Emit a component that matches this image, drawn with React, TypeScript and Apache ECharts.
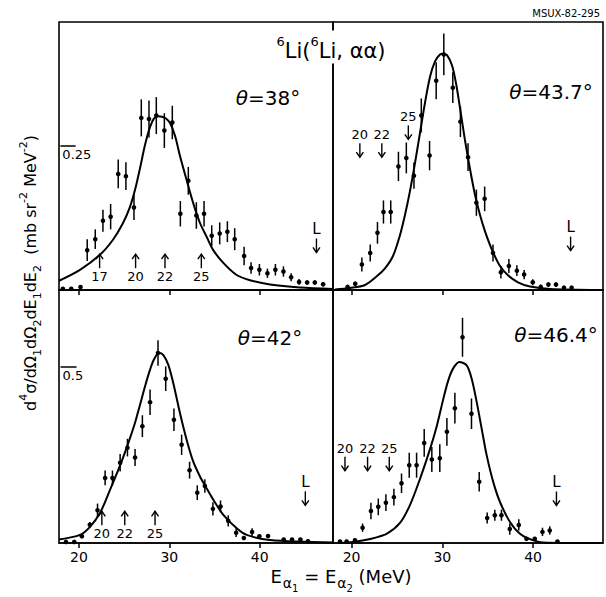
import React, { useEffect, useRef } from 'react';
import * as echarts from 'echarts';

const FONT = 'DejaVu Sans';
const tickValues = [20, 30, 40];

// ---- Top-left panel (theta = 38°)
const tlX = [18.23, 19.15, 20.18, 20.92, 21.81, 22.66, 23.51, 24.35, 25.2, 26.09, 26.9, 27.75, 28.56, 29.45, 30.33, 31.22, 32.1, 32.99, 33.84, 34.69, 35.57, 36.42, 37.23, 38.27, 39.04, 39.96, 40.85, 41.73, 42.62, 43.47, 44.35, 45.24, 46.09, 47.01];
const tlY = [0.002, 0.002, 0.005, 0.069, 0.088, 0.12, 0.127, 0.201, 0.197, 0.143, 0.298, 0.296, 0.302, 0.276, 0.29, 0.132, 0.189, 0.129, 0.132, 0.094, 0.098, 0.101, 0.088, 0.059, 0.038, 0.035, 0.029, 0.035, 0.032, 0.022, 0.014, 0.013, 0.013, 0.01];
const tlErr = [0, 0, 0, 0.019, 0.017, 0.019, 0.022, 0.025, 0.024, 0.022, 0.032, 0.032, 0.032, 0.03, 0.029, 0.022, 0.024, 0.023, 0.022, 0.018, 0.019, 0.018, 0.019, 0.016, 0.01, 0.01, 0.008, 0.01, 0.009, 0.007, 0.005, 0.004, 0.004, 0.004];
const tlCurveX = [17.8, 20.12, 22.33, 23.77, 24.88, 25.65, 26.2, 26.76, 27.31, 27.86, 28.31, 28.75, 29.19, 29.63, 30.08, 30.63, 31.18, 31.92, 32.65, 33.39, 34.13, 34.86, 35.97, 37.45, 38.92, 41.13, 44.45, 48.1];
const tlCurveY = [0.016, 0.035, 0.061, 0.087, 0.116, 0.144, 0.173, 0.211, 0.251, 0.282, 0.297, 0.301, 0.3, 0.297, 0.289, 0.267, 0.232, 0.19, 0.15, 0.116, 0.092, 0.069, 0.047, 0.026, 0.017, 0.0095, 0.0043, 0.0017];
const tlArrowX = [22.29, 26.27, 29.52, 33.54, 46.27];
const tlArrowY = [0.062, 0.062, 0.062, 0.062, 0.065];
const tlArrowText = ['17', '20', '22', '25', 'L'];
const tlArrowDir = ['up', 'up', 'up', 'up', 'down'];

// ---- Top-right panel (theta = 43.7°)
const trX = [19.56, 20.4, 21.13, 22.05, 22.85, 23.51, 24.31, 25.16, 26.03, 26.87, 27.68, 28.59, 29.32, 30.16, 31.15, 31.99, 32.83, 33.75, 34.66, 35.58, 36.45, 37.33, 38.21, 39.01, 39.96, 40.84, 41.68, 42.52, 43.4, 44.24];
const trY = [0.004, 0.008, 0.033, 0.048, 0.074, 0.101, 0.101, 0.16, 0.171, 0.148, 0.226, 0.174, 0.271, 0.305, 0.262, 0.218, 0.172, 0.113, 0.118, 0.048, 0.023, 0.031, 0.025, 0.02, 0.01, 0.004, 0.007, 0.007, 0.003, 0.003];
const trErr = [0, 0.003, 0.009, 0.011, 0.014, 0.015, 0.015, 0.019, 0.02, 0.017, 0.022, 0.019, 0.024, 0.027, 0.02, 0.02, 0.018, 0.017, 0.016, 0.011, 0.008, 0.009, 0.007, 0.006, 0.004, 0.003, 0.003, 0.003, 0, 0];
const trCurveX = [18.17, 19.82, 21.48, 22.8, 23.68, 24.56, 25.33, 25.88, 26.43, 26.98, 27.53, 28.08, 28.64, 29.19, 29.74, 30.1, 30.51, 31.06, 31.5, 31.94, 32.49, 33.04, 33.6, 34.15, 34.7, 35.47, 36.35, 37.23, 38.33, 39.66, 41.86, 47.37];
const trCurveY = [0.0006, 0.0026, 0.0065, 0.018, 0.028, 0.044, 0.071, 0.097, 0.128, 0.164, 0.203, 0.242, 0.276, 0.296, 0.305, 0.306, 0.304, 0.291, 0.268, 0.236, 0.194, 0.157, 0.123, 0.097, 0.076, 0.052, 0.031, 0.019, 0.01, 0.0045, 0.0013, 0];
const trArrowX = [20.91, 23.33, 26.25, 44.13];
const trArrowY = [0.172, 0.172, 0.195, 0.051];
const trArrowText = ['20', '22', '25', 'L'];
const trArrowDir = ['down', 'down', 'down', 'down'];

// ---- Bottom-left panel (theta = 42°)
const blX = [18.57, 19.49, 20.33, 21.21, 22.06, 22.9, 23.71, 24.56, 25.37, 26.21, 27.02, 27.87, 28.75, 29.6, 30.51, 31.36, 32.24, 33.09, 33.93, 34.82, 35.66, 36.51, 37.39, 38.24, 39.15, 39.96, 40.92, 42.65, 43.57, 44.49, 45.33];
const blY = [0.003, 0.003, 0.019, 0.052, 0.093, 0.185, 0.185, 0.228, 0.271, 0.243, 0.332, 0.4, 0.54, 0.467, 0.35, 0.279, 0.207, 0.143, 0.162, 0.097, 0.104, 0.063, 0.029, 0.014, 0.031, 0.019, 0.02, 0.01, 0.01, 0.01, 0.005];
const blErr = [0, 0, 0, 0.008, 0.019, 0.021, 0.021, 0.025, 0.025, 0.024, 0.031, 0.036, 0.036, 0.035, 0.032, 0.029, 0.024, 0.021, 0.019, 0.019, 0.017, 0.016, 0.012, 0, 0.011, 0, 0, 0, 0, 0, 0];
const blCurveX = [17.8, 20.12, 21.23, 22.33, 23.44, 24.62, 25.46, 26.2, 26.76, 27.31, 27.86, 28.31, 28.86, 29.34, 29.89, 30.44, 31.18, 31.92, 32.65, 33.39, 34.13, 34.86, 35.97, 37.45, 38.56, 41.13, 48.1];
const blCurveY = [0.01, 0.023, 0.046, 0.085, 0.151, 0.225, 0.284, 0.341, 0.393, 0.445, 0.492, 0.522, 0.541, 0.534, 0.506, 0.454, 0.369, 0.293, 0.231, 0.189, 0.155, 0.123, 0.08, 0.042, 0.023, 0.0085, 0.0014];
const blArrowX = [22.54, 25.07, 28.42, 45.04];
const blArrowY = [0.09, 0.09, 0.09, 0.107];
const blArrowText = ['20', '22', '25', 'L'];
const blArrowDir = ['up', 'up', 'up', 'down'];

// ---- Bottom-right panel (theta = 46.4°)
const brX = [18.72, 19.45, 20.37, 21.21, 22.13, 22.94, 23.78, 24.66, 25.5, 26.35, 27.16, 28.0, 28.84, 29.72, 30.5, 31.38, 32.22, 33.21, 34.06, 34.94, 35.78, 36.51, 37.43, 38.42, 39.27, 40.18, 41.03, 41.83, 42.68];
const brY = [0.001, 0.001, 0.002, 0.011, 0.023, 0.026, 0.029, 0.033, 0.043, 0.056, 0.056, 0.072, 0.06, 0.061, 0.08, 0.097, 0.148, 0.093, 0.044, 0.018, 0.02, 0.02, 0.01, 0.013, 0.003, 0.003, 0.008, 0.009, 0.001];
const brErr = [0, 0, 0, 0.003, 0.006, 0.006, 0.006, 0.006, 0.007, 0.009, 0.009, 0.01, 0.009, 0.01, 0.01, 0.011, 0.014, 0.011, 0.007, 0.004, 0.004, 0.004, 0.004, 0.004, 0, 0, 0.003, 0.003, 0];
const brCurveX = [18.72, 20.15, 22.03, 23.9, 25.33, 26.43, 27.53, 28.64, 29.38, 30.1, 30.66, 31.21, 31.87, 32.68, 33.23, 33.78, 34.33, 34.88, 35.61, 36.35, 37.45, 38.55, 40.02, 41.49, 47.37];
const brCurveY = [0, 0.0007, 0.0029, 0.0068, 0.0144, 0.0273, 0.046, 0.0675, 0.084, 0.1035, 0.1172, 0.1258, 0.1302, 0.1278, 0.1182, 0.1015, 0.0823, 0.0632, 0.0438, 0.0295, 0.0151, 0.0067, 0.0019, 0.0002, 0];
const brArrowX = [19.27, 21.76, 24.15, 42.57];
const brArrowY = [0.052, 0.052, 0.052, 0.027];
const brArrowText = ['20', '22', '25', 'L'];
const brArrowDir = ['down', 'down', 'down', 'down'];

// ---- Scale markers and axis ranges
const scaleValues = [0.25, 0.25, 0.5, 0.1];
const scaleLabels = ['0.25', '0.25', '0.5', '0.1'];
const scaleStart = [17.95, 17.94, 17.97, 17.94];
const scaleEnd = [19.64, 19.6, 19.74, 19.6];
const yMax = [0.464, 0.347, 0.719, 0.182];
const xMin = [17.8, 17.95, 17.8, 17.95];
const xMax = [48.1, 47.7, 48.1, 47.7];
const angleLabels = ['=38°', '=43.7°', '=42°', '=46.4°'];

const zip = (xs: number[], ...cols: number[][]) => xs.map((x, i) => [x, ...cols.map((c) => c[i])]);

const errRender = (params: any, api: any) => {
  const x = api.value(0);
  const y = api.value(1);
  const e = api.value(2);
  const p = api.coord([x, y]);
  const children: any[] = [];
  if (e > 0) {
    const a = api.coord([x, y + e]);
    const b = api.coord([x, Math.max(0, y - e)]);
    children.push({ type: 'line', shape: { x1: a[0], y1: a[1], x2: b[0], y2: b[1] }, style: { stroke: '#000', lineWidth: 1.5 } });
  }
  children.push({ type: 'circle', shape: { cx: p[0], cy: p[1], r: 2.3 }, style: { fill: '#000' } });
  return { type: 'group', children };
};

const arrowRender = (texts: string[], dirs: string[]) => (params: any, api: any) => {
  const i = params.dataIndex;
  const tip = api.coord([api.value(0), api.value(1)]);
  const s = dirs[i] === 'up' ? 1 : -1;
  const len = 14;
  const tx = tip[0];
  const ty = tip[1];
  const tailY = ty + s * len;
  return {
    type: 'group',
    children: [
      { type: 'line', shape: { x1: tx, y1: ty, x2: tx, y2: tailY }, style: { stroke: '#000', lineWidth: 1.4 } },
      { type: 'polyline', shape: { points: [[tx - 3.5, ty + s * 5], [tx, ty], [tx + 3.5, ty + s * 5]] }, style: { stroke: '#000', lineWidth: 1.4, fill: 'none' } },
      { type: 'text', x: tx, y: tailY + s * 2, style: { text: texts[i], fill: '#000', fontSize: texts[i] === 'L' ? 15 : 13, fontFamily: FONT, align: 'center', verticalAlign: s > 0 ? 'top' : 'bottom' } },
    ],
  };
};

const panels = [
  { pts: zip(tlX, tlY, tlErr), curve: zip(tlCurveX, tlCurveY), arrows: zip(tlArrowX, tlArrowY), texts: tlArrowText, dirs: tlArrowDir },
  { pts: zip(trX, trY, trErr), curve: zip(trCurveX, trCurveY), arrows: zip(trArrowX, trArrowY), texts: trArrowText, dirs: trArrowDir },
  { pts: zip(blX, blY, blErr), curve: zip(blCurveX, blCurveY), arrows: zip(blArrowX, blArrowY), texts: blArrowText, dirs: blArrowDir },
  { pts: zip(brX, brY, brErr), curve: zip(brCurveX, brCurveY), arrows: zip(brArrowX, brArrowY), texts: brArrowText, dirs: brArrowDir },
];

const gridBoxes = [
  { left: 59, top: 22, width: 274, height: 268 },
  { left: 333, top: 22, width: 270, height: 268 },
  { left: 59, top: 290, width: 274, height: 253 },
  { left: 333, top: 290, width: 270, height: 253 },
];

const anglePos = [
  [268, 98],
  [551, 92],
  [270, 338],
  [556, 335],
];

function buildOption(): any {
  const grid = gridBoxes.map((g) => ({ ...g, show: true, borderColor: '#000', borderWidth: 1.6, backgroundColor: 'transparent' }));
  const xAxis = gridBoxes.map((_, i) => ({
    gridIndex: i,
    type: 'value',
    min: xMin[i],
    max: xMax[i],
    axisLine: { show: true, lineStyle: { color: '#000', width: 1.6 } },
    splitLine: { show: false },
    axisTick: { show: true, customValues: tickValues, length: 5, inside: false, lineStyle: { color: '#000', width: 1.5 } },
    axisLabel: { show: i >= 2, customValues: tickValues, color: '#000', fontSize: 14, fontFamily: FONT, margin: 7 },
  }));
  const yAxis = gridBoxes.map((_, i) => ({ gridIndex: i, type: 'value', min: 0, max: yMax[i], show: false }));
  const series: any[] = [];
  panels.forEach((p, i) => {
    series.push({
      type: 'line',
      xAxisIndex: i,
      yAxisIndex: i,
      data: p.curve,
      smooth: 0.3,
      symbol: 'none',
      lineStyle: { color: '#000', width: 2 },
      z: 2,
      markLine: {
        silent: true,
        symbol: 'none',
        animation: false,
        lineStyle: { color: '#000', width: 1.5, type: 'solid' },
        label: { show: true, position: 'insideStartBottom', formatter: scaleLabels[i], color: '#000', fontSize: 13, fontFamily: FONT, distance: 2 },
        data: [[{ coord: [scaleStart[i], scaleValues[i]] }, { coord: [scaleEnd[i], scaleValues[i]] }]],
      },
    });
    series.push({ type: 'custom', xAxisIndex: i, yAxisIndex: i, data: p.pts, renderItem: errRender, z: 3 });
    series.push({ type: 'custom', xAxisIndex: i, yAxisIndex: i, data: p.arrows, renderItem: arrowRender(p.texts, p.dirs), z: 3 });
  });

  const graphic: any[] = [
    {
      type: 'text', z: 100, x: 331, y: 47,
      style: {
        text: '{p|6}{n|Li(}{p|6}{n|Li, αα)}',
        fill: '#000', align: 'center', verticalAlign: 'middle', textAlign: 'center', textVerticalAlign: 'middle',
        backgroundColor: '#fff', padding: [4, 2, 2, 2],
        rich: {
          n: { fontSize: 21, fontFamily: FONT, verticalAlign: 'top', padding: [6, 0, 0, 0] },
          p: { fontSize: 13, fontFamily: FONT, verticalAlign: 'top', padding: [0, 0, 0, 0] },
        },
      },
    },
    {
      type: 'text', z: 100, x: 600, y: 13,
      style: { text: 'MSUX-82-295', fill: '#000', fontSize: 10, fontFamily: FONT, align: 'right', verticalAlign: 'middle', textAlign: 'right', textVerticalAlign: 'middle' },
    },
    {
      type: 'text', z: 100, x: 341, y: 580,
      style: {
        text: '{n|E}{a|α}{d|1}{n| = E}{a|α}{d|2}{n| (MeV)}',
        fill: '#000', align: 'center', verticalAlign: 'middle', textAlign: 'center', textVerticalAlign: 'middle',
        rich: {
          n: { fontSize: 18, fontFamily: FONT, verticalAlign: 'top', padding: [0, 0, 0, 0] },
          a: { fontSize: 14, fontFamily: FONT, verticalAlign: 'top', padding: [9, 0, 0, 1] },
          d: { fontSize: 10, fontFamily: FONT, verticalAlign: 'top', padding: [16, 0, 0, 0] },
        },
      },
    },
    {
      type: 'text', z: 100, x: 30, y: 273, rotation: Math.PI / 2,
      style: {
        text: '{n|d}{p|4}{n|σ/dΩ}{b|1}{n|dΩ}{b|2}{n|dE}{b|1}{n|dE}{b|2}{n|  (mb sr}{p|-2}{n| MeV}{p|-2}{n|)}',
        fill: '#000', align: 'center', verticalAlign: 'middle', textAlign: 'center', textVerticalAlign: 'middle',
        rich: {
          n: { fontSize: 16, fontFamily: FONT, verticalAlign: 'top', padding: [5, 0, 0, 0] },
          p: { fontSize: 11, fontFamily: FONT, verticalAlign: 'top', padding: [0, 0, 0, 0] },
          b: { fontSize: 11, fontFamily: FONT, verticalAlign: 'top', padding: [14, 0, 0, 0] },
        },
      },
    },
  ];
  angleLabels.forEach((t, i) => {
    graphic.push({
      type: 'text', z: 100, x: anglePos[i][0], y: anglePos[i][1],
      style: {
        text: '{t|θ}{n|' + t + '}',
        fill: '#000', align: 'center', verticalAlign: 'middle', textAlign: 'center', textVerticalAlign: 'middle',
        rich: {
          t: { fontSize: 20, fontFamily: FONT, fontStyle: 'italic' },
          n: { fontSize: 20, fontFamily: FONT },
        },
      },
    });
  });

  return { animation: false, backgroundColor: '#fff', grid, xAxis, yAxis, series, graphic };
}

export default function App() {
  const ref = useRef<HTMLDivElement>(null);
  useEffect(() => {
    if (!ref.current) return;
    const chart = echarts.init(ref.current, undefined, { renderer: 'svg' });
    chart.setOption(buildOption());
    return () => chart.dispose();
  }, []);
  return <div ref={ref} style={{ position: 'absolute', left: 0, top: 0, width: 606, height: 597 }} />;
}
